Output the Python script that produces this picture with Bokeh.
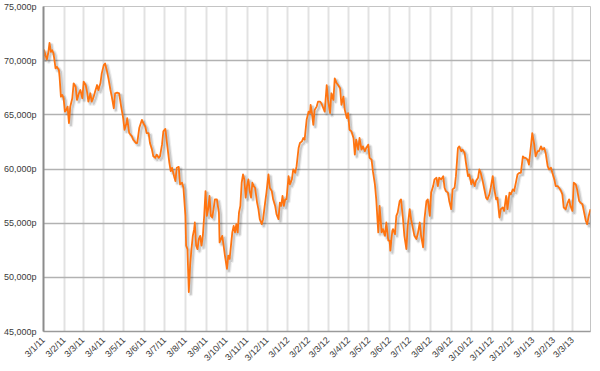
import math
import pandas as pd
from bokeh.plotting import figure
from bokeh.models import Range1d, FixedTicker
from bokeh.embed import file_html
from bokeh.resources import INLINE

# ---- data -------------------------------------------------------------
start_date = "2011-01-03"
end_day = 817

# observation dates, as days since start_date
day_offsets = [
    0, 1, 3, 5, 7, 9, 11, 13, 15, 18, 20, 23, 24, 26, 28, 30, 32, 34, 36, 38,
    40, 43, 45, 48, 50, 53, 55, 58, 60, 63, 65, 67, 70, 72, 75, 77, 80, 82, 85, 87,
    90, 92, 95, 97, 100, 102, 105, 107, 110, 113, 116, 119, 121, 124, 125, 128, 132, 134, 138, 140,
    143, 147, 149, 152, 154, 157, 159, 162, 164, 167, 169, 172, 174, 177, 179, 182,
    185, 188, 190, 192, 195, 197, 199, 202, 204, 207, 209, 212, 213, 215, 217, 219, 221, 223, 225, 226,
    228, 230, 232, 234, 236, 238, 240, 242, 244, 246, 248, 250, 252, 254, 256, 259, 262, 263, 265, 267,
    269, 271, 274, 276, 278, 280, 282, 284, 286, 288, 290, 292, 294, 296, 298, 300, 302, 304, 306, 308,
    310, 312, 314, 316, 319, 321, 323, 326, 328, 331, 333, 336, 338, 341, 343, 346, 348, 351, 353, 355,
    357, 359, 361,
    363, 366, 368, 371, 373, 376, 378, 381, 383, 386, 388, 390, 393, 396, 398, 399, 401, 403, 405, 408,
    410, 413, 415, 418, 420, 423, 425, 428, 430, 433, 435, 438, 440, 443, 445, 448, 450, 453, 455, 457,
    460, 463, 465, 467, 470, 472, 475, 477, 480, 482, 485, 487, 490, 492, 495, 497, 500, 502, 505, 507,
    510, 512, 515, 517, 518, 521, 522, 525, 527, 529, 532,
    534, 537, 539, 542, 544, 547, 549, 552, 554, 557, 559, 562, 564, 567, 569, 572, 574, 577, 579, 582,
    584, 587, 589, 591, 594, 597, 599, 601, 604, 606, 609, 611, 614, 616, 619, 621, 624, 626, 629, 631,
    634, 636, 639, 641, 644, 646, 649, 651, 653, 656, 658, 661, 663, 666, 668, 671, 673,
    676, 678, 681, 683, 686, 688, 691, 693, 696, 698, 701, 703, 706, 708, 711, 713, 716, 718, 720, 723,
    725, 728, 730, 733, 735, 738, 740, 743, 745, 748, 750, 753, 755, 758, 760, 763, 765, 768, 770, 773,
    775, 777, 780, 783, 785, 787, 790, 792, 795, 797, 800, 802, 805, 807, 810, 812, 815, 817,
]

# price in pence
prices = [
    70050, 70960, 70500, 70110, 70660, 71640, 70810, 70960, 70660, 69280, 69430, 69130, 68510, 66680, 66840, 66530, 65300, 65460, 65760, 64240,
    65760, 66530, 67910, 67600, 66380, 66990, 67290, 66530, 68060, 67750, 67140, 66220, 66990, 66220, 66680, 67140, 67750, 67290, 67910, 68830,
    69590, 69740, 68970, 68370, 67290, 66680, 65610, 66990, 67050, 66990, 65760, 64700, 63620, 64240, 64700, 63320, 63010, 62710, 62400, 62400,
    63780, 64540, 64240, 63930, 63320, 63320, 62400, 61790, 61170, 61030, 61330, 61030, 61170, 62250, 63470, 63700,
    62090, 60570, 59800, 60110, 59340, 58880, 60110, 60200, 58580, 58730, 58270, 55670, 52920, 52610, 48640, 51080, 52610, 53830, 54450, 55060,
    52920, 52610, 53530, 53830, 52920, 53830, 55670, 57960, 55670, 56290, 57510, 55670, 55520, 56290, 57200, 57200, 55980, 53220, 53530, 53830,
    52920, 52000, 50780, 52000, 51700, 52920, 54150, 54750, 54150, 54910, 54150, 55980, 56590, 58730, 59500, 59040, 57360, 58420, 59040, 57960,
    57360, 58730, 58420, 58270, 56900, 56290, 55370, 54910, 55370, 56900, 57820, 59500, 58270, 57960, 57200, 56590, 55830, 55370, 56900, 56590,
    57510, 56590, 57200,
    57200, 59340, 58580, 59040, 59960, 59650, 60260, 61940, 62400, 62550, 62860, 62710, 64540, 65300, 65150, 65920, 65150, 64080, 65460, 65760,
    66220, 66220, 66070, 65610, 65300, 67750, 66380, 65150, 66990, 66380, 68370, 67910, 67750, 67450, 65920, 66680, 65460, 64700, 65150, 63620,
    63470, 62860, 61330, 62710, 61790, 62860, 61790, 62090, 61640, 61940, 62250, 61030, 60870, 59800, 58580, 57200, 54150, 56590, 54150, 54450,
    53830, 55060, 53380, 53380, 52460, 54300, 54450, 53990, 55670, 55980, 57050,
    57200, 55370, 53830, 52610, 54750, 56290, 55370, 54450, 53830, 53530, 53990, 55060, 53830, 52770, 55370, 57050, 57200, 55670, 57820, 58420,
    59040, 59190, 58420, 59190, 59040, 59340, 58270, 57960, 57820, 57050, 56290, 58120, 58270, 59340, 61940, 62090, 61640, 61790, 61480, 60570,
    59340, 59500, 58580, 59040, 58420, 58890, 59190, 59960, 59650, 58880, 58270, 57360, 57200, 57660, 58270, 59340, 58270,
    57200, 57360, 55520, 56290, 56440, 56130, 57510, 56290, 57820, 57660, 58120, 57970, 58880, 59500, 59650, 59650, 61170, 61030, 61030, 60870,
    60410, 62090, 63320, 62250, 61170, 61640, 61640, 62090, 61790, 61940, 61480, 60260, 59960, 60110, 59650, 59040, 58420, 58420, 58270, 57970,
    57660, 56440, 56290, 56900, 57200, 56590, 56130, 58730, 58580, 58120, 57050, 56900, 56750, 56130, 55220, 54910, 55830, 56290,
]

x_tick_labels = [
    "3/1/11", "3/2/11", "3/3/11", "3/4/11", "3/5/11", "3/6/11", "3/7/11", "3/8/11", "3/9/11",
    "3/10/11", "3/11/11", "3/12/11", "3/1/12", "3/2/12", "3/3/12", "3/4/12", "3/5/12", "3/6/12",
    "3/7/12", "3/8/12", "3/9/12", "3/10/12", "3/11/12", "3/12/12", "3/1/13", "3/2/13", "3/3/13",
]
y_ticks = [45000, 50000, 55000, 60000, 65000, 70000, 75000]
y_tick_labels = ["45,000p", "50,000p", "55,000p", "60,000p", "65,000p", "70,000p", "75,000p"]

# ---- derived -----------------------------------------------------------
t0 = pd.Timestamp(start_date)
dates = [t0 + pd.Timedelta(days=d) for d in day_offsets]
t_end = t0 + pd.Timedelta(days=end_day)

tick_dates = pd.date_range(start_date, periods=len(x_tick_labels), freq=pd.DateOffset(months=1))
x_ticks_ms = [float(ts.value // 10**6) for ts in tick_dates]

p = figure(
    width=592, height=369,
    x_axis_type="datetime",
    x_range=Range1d(t0, t_end), y_range=Range1d(45000, 75000),
    output_backend="svg", toolbar_location=None,
    min_border_left=41, min_border_right=2, min_border_top=6, min_border_bottom=36,
    background_fill_color="white", border_fill_color="white",
)
p.outline_line_color = "#c4c4c4"
p.outline_line_width = 1

# shadow offset ranges (style only: shifts the same data 2px right / 2px down)
shift = pd.Timedelta(days=3)
p.extra_x_ranges = {"shadow_x": Range1d(t0 - shift, t_end - shift)}
p.extra_y_ranges = {"shadow_y": Range1d(45000 + 190, 75000 + 190)}

# axes
p.yaxis.ticker = FixedTicker(ticks=y_ticks)
p.yaxis.major_label_overrides = dict(zip(y_ticks, y_tick_labels))
p.xaxis.ticker = FixedTicker(ticks=x_ticks_ms)
p.xaxis.major_label_overrides = dict(zip(x_ticks_ms, x_tick_labels))
p.xaxis.major_label_orientation = math.pi / 4

for ax in (p.xaxis[0], p.yaxis[0]):
    ax.major_label_text_font = "Liberation Sans"
    ax.major_label_text_color = "#3a3a3a"
    ax.minor_tick_line_color = None
    ax.major_tick_line_color = None
    ax.major_tick_in = 0
    ax.major_tick_out = 0

p.yaxis.major_label_text_font_size = "9px"
p.yaxis.major_label_standoff = 7
p.yaxis.axis_line_color = "#8c8c8c"
p.yaxis.axis_line_width = 2
p.xaxis.major_label_text_font_size = "9px"
p.xaxis.major_label_standoff = 7
p.xaxis.axis_line_color = "#9a9a9a"
p.xaxis.axis_line_width = 1.5

# grids
p.xgrid.grid_line_color = "#e2e2e2"
p.xgrid.grid_line_width = 2
p.ygrid.grid_line_color = "#b2b2b2"
p.ygrid.grid_line_width = 1.5

# shadow then line
p.line(dates, prices, x_range_name="shadow_x", y_range_name="shadow_y",
       line_color="black", line_alpha=0.07, line_width=4.5, line_join="round")
p.line(dates, prices, x_range_name="shadow_x", y_range_name="shadow_y",
       line_color="black", line_alpha=0.14, line_width=2.2, line_join="round")
p.line(dates, prices, line_color="#FF7410", line_width=1.8, line_join="round")

open("out.html", "w").write(file_html(p, INLINE))
